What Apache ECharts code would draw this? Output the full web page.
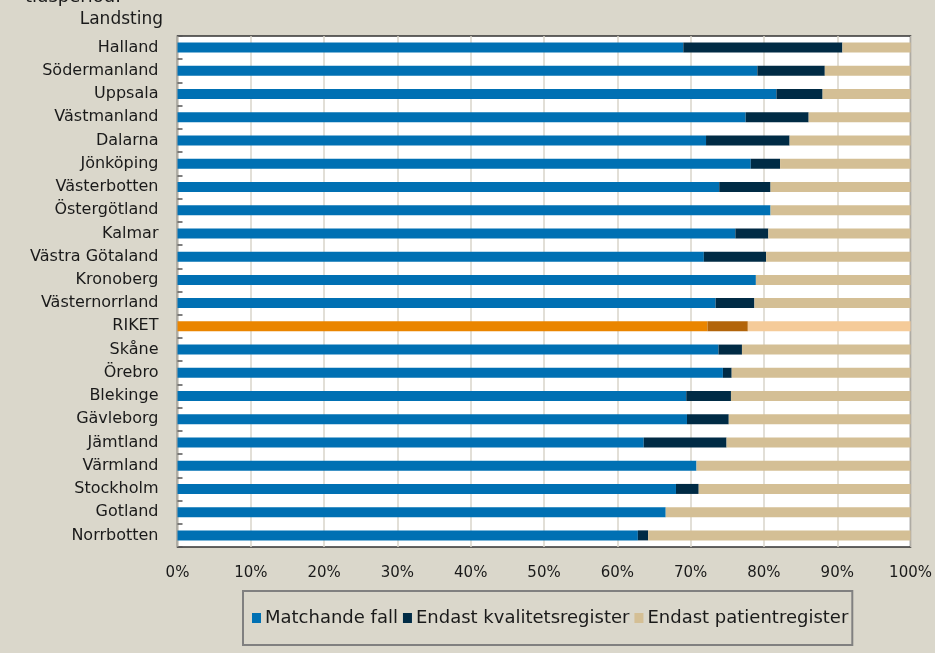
<!DOCTYPE html>
<html>
<head>
<meta charset="utf-8">
<script src="https://cdn.jsdelivr.net/npm/echarts@6/dist/echarts.min.js"></script>
<style>
html,body{margin:0;padding:0;background:#dad7cb;}
#c{width:935px;height:653px;}
</style>
</head>
<body>
<div id="c"></div>
<script>
const categories = ["Halland","Södermanland","Uppsala","Västmanland","Dalarna","Jönköping","Västerbotten","Östergötland","Kalmar","Västra Götaland","Kronoberg","Västernorrland","RIKET","Skåne","Örebro","Blekinge","Gävleborg","Jämtland","Värmland","Stockholm","Gotland","Norrbotten"];
const matchande = [69.0,79.1,81.7,77.5,72.1,78.2,73.9,80.9,76.1,71.8,78.9,73.4,72.3,73.8,74.4,69.4,69.5,63.6,70.8,68.0,66.6,62.8];
const kvalitet  = [21.7,9.2,6.3,8.6,11.4,4.0,7.0,0,4.5,8.5,0,5.3,5.5,3.2,1.2,6.1,5.7,11.3,0,3.1,0,1.4];
const patient   = [9.3,11.7,12.0,13.9,16.5,17.8,19.1,19.1,19.4,19.7,21.1,21.3,22.2,23.0,24.4,24.5,24.8,25.1,29.2,28.9,33.4,35.8];
const xTicks = ["0%","10%","20%","30%","40%","50%","60%","70%","80%","90%","100%"];
const seriesNames = ["Matchande fall","Endast kvalitetsregister","Endast patientregister"];
const colors = ["#0070b3","#002b45","#d4bf95"];
const rikColors = ["#ea8500","#b2640a","#f5cb99"];

const font = "DejaVu Sans";
function mk(vals, i){
  return vals.map((v, k) => categories[k] === "RIKET" ? {value: v, itemStyle: {color: rikColors[i]}} : v);
}
const chart = echarts.init(document.getElementById('c'));
chart.setOption({
  backgroundColor: '#dad7cb',
  animation: false,
  textStyle: {fontFamily: font},
  grid: {left: 177.5, right: 24, top: 36, bottom: 106, show: true, backgroundColor: '#ffffff', borderColor: '#333333', borderWidth: 1.5},
  graphic: [
    {type: 'text', left: 25, top: -12, style: {text: 'tidsperiod.', fontFamily: font, fontSize: 18, fill: '#1a1a1a'}},
    {type: 'text', right: 935 - 163, top: 11, style: {text: 'Landsting', fontFamily: font, fontSize: 17, fill: '#1a1a1a', textAlign: 'right'}}
  ],
  legend: {
    left: 243, top: 591,
    padding: [18, 4, 18, 9],
    borderColor: '#808080', borderWidth: 2,
    itemWidth: 9, itemHeight: 10, itemGap: 5,
    icon: 'rect',
    textStyle: {fontFamily: font, fontSize: 18, color: '#1a1a1a', padding: [0,0,0,-1]},
    data: seriesNames
  },
  xAxis: {
    type: 'value', min: 0, max: 100, interval: 10,
    axisLine: {show: false}, axisTick: {show: false},
    axisLabel: {formatter: (v) => xTicks[Math.round(v/10)], fontSize: 15, color: '#1a1a1a', margin: 19, fontFamily: font},
    splitLine: {show: true, lineStyle: {color: '#d9d5ca', width: 1.5}}
  },
  yAxis: {
    type: 'category', data: categories, inverse: true,
    axisLine: {show: false},
    axisTick: {show: true, inside: true, length: 5, lineStyle: {color: '#555', width: 1.5}},
    axisLabel: {fontSize: 16, color: '#1a1a1a', margin: 19, fontFamily: font}
  },
  series: seriesNames.map((n, i) => ({
    name: n, type: 'bar', stack: 'a', barWidth: 10,
    itemStyle: {color: colors[i]},
    data: mk([matchande, kvalitet, patient][i], i)
  }))
});
</script>
</body>
</html>
